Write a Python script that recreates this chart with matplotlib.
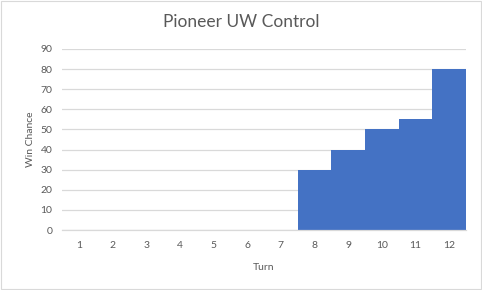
import matplotlib
matplotlib.use("Agg")
import matplotlib.pyplot as plt
from matplotlib.patches import Rectangle

plt.rcParams["font.family"] = ["Lato", "DejaVu Sans"]

turns = [1, 2, 3, 4, 5, 6, 7, 8, 9, 10, 11, 12]
win_chance = [0, 0, 0, 0, 0, 0, 0, 30, 40, 50, 55, 80]
y_ticks = [0, 10, 20, 30, 40, 50, 60, 70, 80, 90]

text_color = "#595959"

fig = plt.figure(figsize=(4.82, 2.90), dpi=100)
ax = fig.add_axes([62 / 482, 1 - 230 / 290, (466 - 62) / 482, (230 - 49) / 290])

ax.bar(turns, win_chance, width=1.0, color="#4472C4", zorder=2)

ax.set_xlim(0.5, 12.5)
ax.set_ylim(0, 90)
ax.set_xticks(turns)
ax.set_yticks(y_ticks)
ax.grid(axis="y", color="#D9D9D9", linewidth=0.9, zorder=0)
ax.tick_params(length=0, labelsize=7.5, colors=text_color, pad=7)
ax.tick_params(axis="x", pad=8)
for side in ["top", "right", "left"]:
    ax.spines[side].set_visible(False)
ax.spines["bottom"].set_color("#D9D9D9")
ax.spines["bottom"].set_linewidth(0.9)

# title is centred on the whole chart, not on the plot area
fig.text(0.5, 1 - 22 / 290, "Pioneer UW Control", fontsize=12.5, color=text_color,
         ha="center", va="center")
ax.set_xlabel("Turn", fontsize=7.5, color=text_color, labelpad=9)
ax.set_ylabel("Win Chance", fontsize=7.5, color=text_color, labelpad=4)

# chart frame
fig.patches.append(Rectangle((0.002, 0.003), 0.995, 0.993, transform=fig.transFigure,
                             fill=False, edgecolor="#D9D9D9", linewidth=0.8))

fig.savefig("out.png", dpi=100)
